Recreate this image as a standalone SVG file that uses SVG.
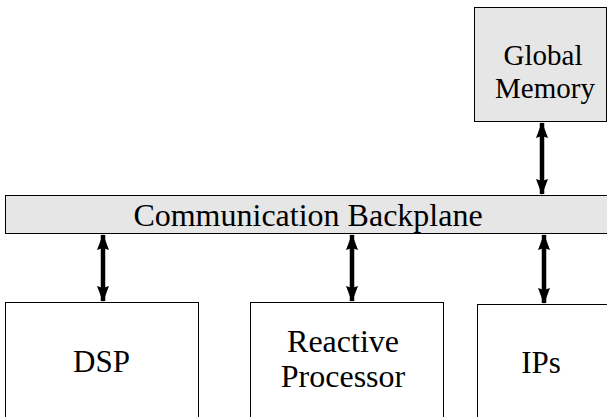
<svg xmlns="http://www.w3.org/2000/svg" width="607" height="417" viewBox="0 0 607 417">
<defs>
<style>
.box{stroke:#000;stroke-width:1}
.gray{fill:#e6e6e6}
.white{fill:#fff}
text{font-family:"Liberation Serif","Times New Roman",serif;fill:#000;text-anchor:middle}
.conn{stroke:#000;stroke-width:4.5;fill:none;marker-start:url(#ah);marker-end:url(#ah)}
</style>
<marker id="ah" viewBox="0 0 16 12" refX="15" refY="6" markerWidth="16" markerHeight="12" markerUnits="userSpaceOnUse" orient="auto-start-reverse">
<path d="M0,0 L16,6 L0,12 L2,6 Z" fill="#000"/>
</marker>
</defs>
<rect width="607" height="417" fill="#fff"/>
<g id="global-memory">
<rect class="box gray" x="474.5" y="7.5" width="132" height="114"/>
<text x="543" y="65" font-size="29">Global</text>
<text x="545" y="98" font-size="29">Memory</text>
</g>
<g id="backplane">
<rect class="box gray" x="5.5" y="195.5" width="605" height="38"/>
<text x="308" y="226" font-size="32">Communication Backplane</text>
</g>
<g id="dsp">
<rect class="box white" x="5.5" y="302.5" width="193" height="120"/>
<text x="101.5" y="372" font-size="31">DSP</text>
</g>
<g id="reactive">
<rect class="box white" x="250.5" y="302.5" width="193" height="120"/>
<text x="343" y="352" font-size="32">Reactive</text>
<text x="343" y="387" font-size="32">Processor</text>
</g>
<g id="ips">
<rect class="box white" x="477.5" y="304.5" width="135" height="120"/>
<text x="541" y="373" font-size="31">IPs</text>
</g>
<g id="connectors">
<line class="conn" x1="542" y1="123" x2="542" y2="194"/>
<line class="conn" x1="103" y1="235" x2="103" y2="301"/>
<line class="conn" x1="352" y1="235" x2="352" y2="301"/>
<line class="conn" x1="544" y1="235" x2="544" y2="303"/>
</g>
</svg>
